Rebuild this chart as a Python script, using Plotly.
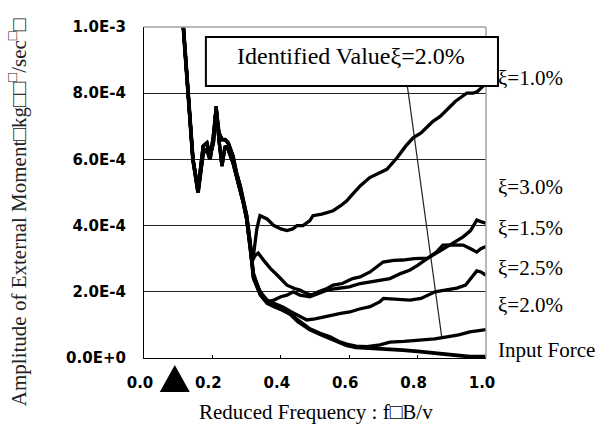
import plotly.graph_objects as go

# ---------------- data (amplitude in units of 1e-4) ----------------
prefix_a_x = [0.105, 0.115, 0.129, 0.143, 0.158, 0.166, 0.173, 0.184, 0.193, 0.203, 0.211,
              0.219, 0.228, 0.237, 0.246, 0.26, 0.27, 0.281, 0.29, 0.3, 0.31]
prefix_a_y = [10.8, 10.0, 8.0, 6.0, 5.1, 5.9, 6.4, 6.5, 6.1, 6.5, 7.6,
              6.6, 5.8, 6.4, 6.3, 5.9, 5.5, 5.1, 4.7, 4.2, 3.4]
prefix_b_x = [0.105, 0.115, 0.129, 0.143, 0.158, 0.166, 0.173, 0.184, 0.193, 0.203, 0.211,
              0.219, 0.228, 0.237, 0.246, 0.26, 0.27, 0.281, 0.29, 0.3, 0.31]
prefix_b_y = [10.8, 10.0, 8.0, 6.0, 5.0, 5.6, 6.2, 6.3, 6.0, 6.7, 7.5,
              6.8, 6.6, 6.6, 6.5, 6.1, 5.6, 5.2, 4.8, 4.3, 3.5]

xi10_x = [0.32, 0.33, 0.339, 0.36, 0.38, 0.40, 0.418, 0.435, 0.447, 0.465, 0.485, 0.494, 0.52,
          0.553, 0.575, 0.593, 0.61, 0.632, 0.66, 0.68, 0.71, 0.74, 0.765, 0.787, 0.81, 0.83,
          0.845, 0.866, 0.886, 0.91, 0.93, 0.944, 0.962, 0.975, 0.99, 1.0]
xi10_y = [3.1, 3.9, 4.3, 4.2, 4.0, 3.9, 3.85, 3.9, 4.0, 4.0, 4.15, 4.3, 4.35,
          4.45, 4.6, 4.75, 4.95, 5.2, 5.45, 5.55, 5.7, 6.05, 6.4, 6.65, 6.8, 7.0,
          7.15, 7.3, 7.5, 7.75, 7.9, 8.0, 8.0, 8.05, 8.2, 8.3]

xi15_x = [0.319, 0.335, 0.348, 0.36, 0.38, 0.40, 0.418, 0.436, 0.456, 0.485, 0.51, 0.535, 0.564,
          0.6, 0.632, 0.661, 0.69, 0.719, 0.75, 0.778, 0.80, 0.83, 0.86, 0.886, 0.91, 0.933,
          0.955, 0.973, 0.985, 1.0]
xi15_y = [2.6, 2.1, 1.85, 1.7, 1.75, 1.85, 1.9, 2.0, 1.9, 1.85, 1.95, 2.05, 2.1,
          2.15, 2.25, 2.3, 2.36, 2.4, 2.55, 2.66, 2.8, 3.02, 3.2, 3.36, 3.5, 3.66,
          3.85, 4.17, 4.12, 4.07]

xi25_x = [0.315, 0.325, 0.334, 0.35, 0.37, 0.39, 0.418, 0.44, 0.456, 0.476, 0.49, 0.51, 0.535,
          0.553, 0.58, 0.61, 0.632, 0.661, 0.68, 0.699, 0.73, 0.757, 0.79, 0.83, 0.855, 0.874,
          0.9, 0.933, 0.955, 0.973, 0.985, 1.0]
xi25_y = [2.9, 3.1, 3.17, 2.95, 2.7, 2.5, 2.2, 2.1, 2.05, 1.95, 1.9, 2.0, 2.1,
          2.2, 2.25, 2.4, 2.45, 2.6, 2.75, 2.9, 2.95, 2.96, 3.0, 3.02, 3.2, 3.41,
          3.42, 3.41, 3.3, 3.2, 3.3, 3.37]

xi20_x = [0.32, 0.34, 0.36, 0.38, 0.406, 0.43, 0.455, 0.476, 0.5, 0.523, 0.55, 0.575, 0.602,
          0.63, 0.661, 0.69, 0.70, 0.74, 0.778, 0.81, 0.83, 0.851, 0.88, 0.915, 0.94, 0.96,
          0.973, 0.985, 1.0]
xi20_y = [2.5, 2.0, 1.75, 1.65, 1.54, 1.4, 1.25, 1.15, 1.18, 1.24, 1.3, 1.35, 1.39,
          1.48, 1.55, 1.7, 1.8, 1.78, 1.75, 1.8, 1.9, 2.0, 2.05, 2.11, 2.2, 2.45,
          2.63, 2.6, 2.5]

xi30_x = [0.32, 0.34, 0.36, 0.38, 0.406, 0.427, 0.45, 0.485, 0.515, 0.544, 0.57, 0.593, 0.62,
          0.652, 0.69, 0.719, 0.76, 0.807, 0.85, 0.886, 0.92, 0.953, 0.975, 1.0]
xi30_y = [2.4, 1.9, 1.65, 1.55, 1.45, 1.36, 1.15, 0.88, 0.75, 0.64, 0.5, 0.42, 0.36,
          0.34, 0.4, 0.48, 0.5, 0.54, 0.58, 0.64, 0.7, 0.79, 0.82, 0.86]

force_x = [0.32, 0.34, 0.36, 0.38, 0.406, 0.427, 0.45, 0.485, 0.515, 0.544, 0.57, 0.593, 0.62,
           0.661, 0.70, 0.757, 0.8, 0.857, 0.9, 0.953, 1.0]
force_y = [2.45, 1.95, 1.7, 1.58, 1.45, 1.33, 1.1, 0.86, 0.72, 0.6, 0.47, 0.38, 0.32,
           0.30, 0.27, 0.24, 0.2, 0.15, 0.1, 0.04, 0.04]

pointer_x = [0.770, 0.871]
pointer_y = [8.22, 0.6]
triangle_freq = 0.09

x_ticks = [0.0, 0.2, 0.4, 0.6, 0.8, 1.0]
x_ticktext = ["0.0", "0.2", "0.4", "0.6", "0.8", "1.0"]
y_ticks = [0, 2, 4, 6, 8, 10]
y_ticktext = ["0.0E+0", "2.0E-4", "4.0E-4", "6.0E-4", "8.0E-4", "1.0E-3"]

labels = ["ξ=1.0%", "ξ=3.0%", "ξ=1.5%", "ξ=2.5%", "ξ=2.0%", "Input Force"]
label_pos = [0.846, 0.517, 0.393, 0.272, 0.160, 0.024]

series = [
    ("ξ=1.0%", prefix_a_x + xi10_x, prefix_a_y + xi10_y, 3.3),
    ("ξ=1.5%", prefix_a_x + xi15_x, prefix_a_y + xi15_y, 3.3),
    ("ξ=2.5%", prefix_a_x + xi25_x, prefix_a_y + xi25_y, 3.3),
    ("ξ=2.0%", prefix_b_x + xi20_x, prefix_b_y + xi20_y, 3.3),
    ("ξ=3.0%", prefix_b_x + xi30_x, prefix_b_y + xi30_y, 3.3),
    ("Input Force", prefix_b_x + force_x, prefix_b_y + force_y, 3.8),
]

fig = go.Figure()
fig.add_trace(go.Scatter(x=pointer_x, y=pointer_y, mode="lines",
                         line=dict(color="#222222", width=1.2), showlegend=False))
for name, xs, ys, w in series:
    fig.add_trace(go.Scatter(x=xs, y=ys, mode="lines", name=name,
                             line=dict(color="black", width=w), showlegend=False))

serif = "Liberation Serif, Times New Roman, serif"
tickfont = dict(family="DejaVu Sans", size=15, color="black", weight=700)

annotations = []
for t, yp in zip(labels, label_pos):
    annotations.append(dict(text=t, xref="paper", yref="paper", x=1.03, y=yp,
                            xanchor="left", yanchor="middle", showarrow=False,
                            font=dict(family=serif, size=21, color="black")))
annotations.append(dict(text="Identified Valueξ=2.0%", xref="paper", yref="paper",
                        x=0.606, y=0.912, xanchor="center", yanchor="middle", showarrow=False,
                        font=dict(family=serif, size=24, color="black")))
annotations.append(dict(text="Reduced Frequency : f□B/v", xref="paper", yref="paper",
                        x=0.502, y=-0.163, xanchor="center", yanchor="middle", showarrow=False,
                        font=dict(family=serif, size=21, color="black")))
annotations.append(dict(text="Amplitude of External Moment□kg□□<sup>□</sup>/sec<sup>□</sup>□",
                        xref="paper", yref="paper", textangle=-90,
                        x=-0.371, y=0.441, xanchor="center", yanchor="middle", showarrow=False,
                        font=dict(family=serif, size=21, color="#222222")))

x_paper = (triangle_freq - x_ticks[0]) / (x_ticks[-1] - x_ticks[0])
shapes = [
    dict(type="line", xref="paper", yref="paper", x0=0, x1=1, y0=1, y1=1,
         line=dict(color="#a0a0a0", width=1.5), layer="above"),
    dict(type="line", xref="paper", yref="paper", x0=1, x1=1, y0=0, y1=1,
         line=dict(color="#a0a0a0", width=1.5), layer="above"),
    dict(type="rect", xref="paper", yref="paper", x0=0.181, x1=1.035, y0=0.822, y1=0.970,
         line=dict(color="black", width=2), fillcolor="white", layer="above"),
    dict(type="path", xref="paper", yref="paper", xsizemode="pixel", ysizemode="pixel",
         xanchor=x_paper, yanchor=0, path="M -15,-34 L 15,-34 L 0,-7 Z",
         fillcolor="black", line=dict(color="black", width=0), layer="above"),
]

fig.update_layout(
    width=598, height=428,
    margin=dict(l=144, r=112, t=27, b=70),
    paper_bgcolor="white", plot_bgcolor="white",
    showlegend=False,
    annotations=annotations,
    shapes=shapes,
    xaxis=dict(range=[0, 1], tickvals=x_ticks, ticktext=x_ticktext, showgrid=False,
               zeroline=False, showline=True, linecolor="black", linewidth=1.2,
               ticks="inside", ticklen=3, tickcolor="black", tickwidth=1,
               tickfont=tickfont, ticklabelstandoff=11, ticklabelshift=-4, fixedrange=True),
    yaxis=dict(range=[0, 10], tickvals=y_ticks, ticktext=y_ticktext, showgrid=True,
               gridcolor="#222222", gridwidth=1.2, zeroline=False, showline=True,
               linecolor="black", linewidth=1.2, ticks="", tickfont=tickfont,
               ticklabelstandoff=14, fixedrange=True),
)

fig.write_html("out.html")
